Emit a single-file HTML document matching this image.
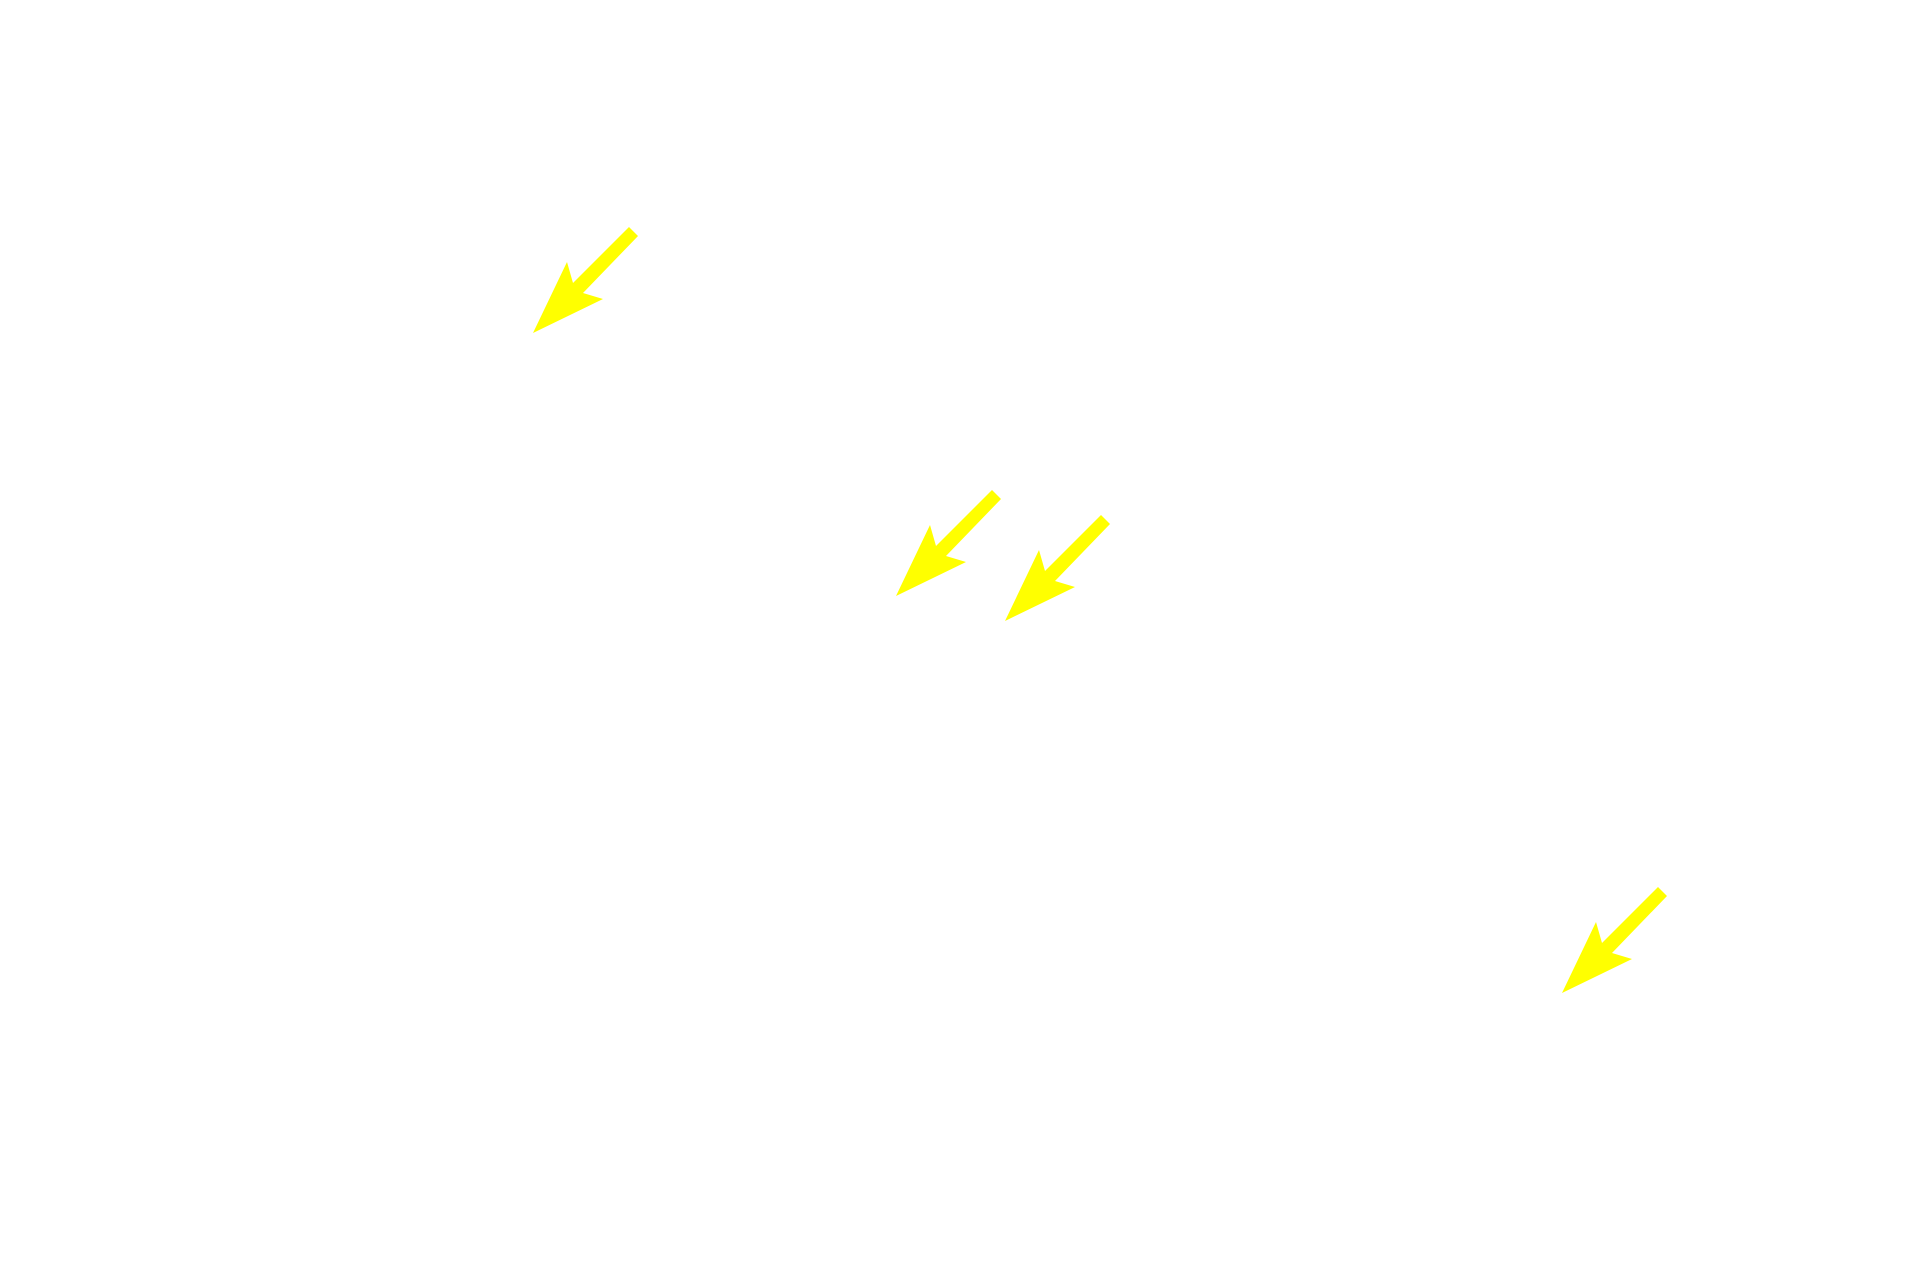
<!DOCTYPE html>
<html><head><meta charset="utf-8"><style>html,body{margin:0;padding:0;background:#fff;width:1920px;height:1280px;overflow:hidden}</style></head>
<body>
<svg width="1920" height="1280" viewBox="0 0 1920 1280" xmlns="http://www.w3.org/2000/svg">
<defs>
<polygon id="a" points="533,333 567,262 573,283 629,227 638,236 583,293 603,299" fill="#ffff00"/>
</defs>
<use href="#a"/>
<use href="#a" transform="translate(363,263)"/>
<use href="#a" transform="translate(472,288)"/>
<use href="#a" transform="translate(1029,660)"/>
</svg>
</body></html>
